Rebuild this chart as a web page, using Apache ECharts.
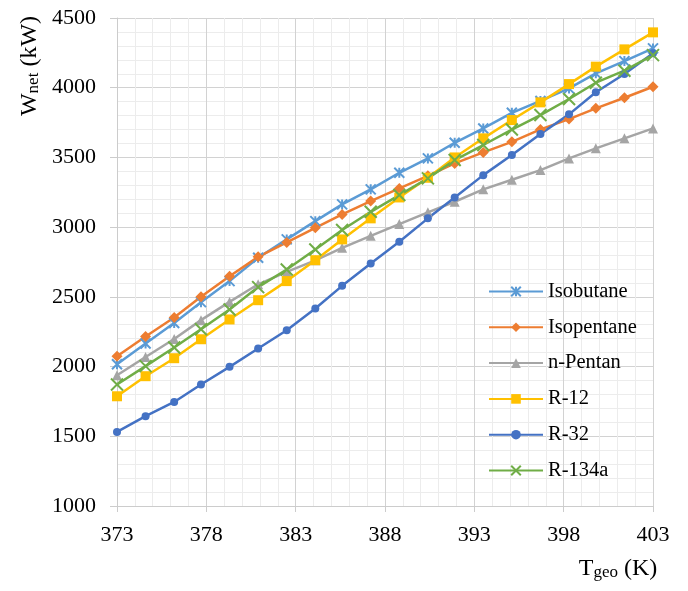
<!DOCTYPE html>
<html><head><meta charset="utf-8">
<script src="https://cdn.jsdelivr.net/npm/echarts@6/dist/echarts.min.js"></script>
<style>html,body{margin:0;padding:0;background:#fff}#c{width:688px;height:591px}</style>
</head><body><div id="c"></div>
<script>
const temperatures = [373.0, 374.6, 376.2, 377.7, 379.3, 380.9, 382.5, 384.1, 385.6, 387.2, 388.8, 390.4, 391.9, 393.5, 395.1, 396.7, 398.3, 399.8, 401.4, 403.0];
const isobutane  = [2017, 2165, 2313, 2462, 2613, 2780, 2912, 3043, 3163, 3271, 3390, 3493, 3605, 3708, 3820, 3905, 3995, 4103, 4191, 4282];
const isopentane = [2074, 2216, 2352, 2500, 2648, 2787, 2890, 2995, 3091, 3187, 3278, 3368, 3457, 3536, 3612, 3701, 3775, 3852, 3928, 4007];
const nPentan    = [1938, 2069, 2198, 2333, 2464, 2590, 2679, 2762, 2852, 2938, 3022, 3106, 3182, 3271, 3340, 3409, 3493, 3565, 3637, 3708];
const r12        = [1787, 1931, 2060, 2196, 2338, 2476, 2613, 2763, 2912, 3063, 3213, 3354, 3500, 3637, 3768, 3895, 4026, 4151, 4275, 4397];
const r32        = [1531, 1644, 1746, 1871, 1998, 2130, 2261, 2417, 2579, 2740, 2895, 3063, 3213, 3373, 3517, 3668, 3809, 3967, 4098, 4247];
const r134a      = [1871, 2003, 2137, 2268, 2409, 2570, 2696, 2840, 2979, 3110, 3230, 3350, 3481, 3589, 3700, 3804, 3919, 4036, 4122, 4234];
const seriesNames = ['Isobutane', 'Isopentane', 'n-Pentan', 'R-12', 'R-32', 'R-134a'];
const xTickLabels = [373, 378, 383, 388, 393, 398, 403];
const yTickLabels = [1000, 1500, 2000, 2500, 3000, 3500, 4000, 4500];

const F = 'Liberation Serif, Times New Roman, serif';
const colors = ['#5B9BD5', '#ED7D31', '#A5A5A5', '#FFC000', '#4472C4', '#70AD47'];
const symbols = [
  'path://M0,0 L10,10 M10,0 L0,10 M5,0 L5,10',
  'diamond', 'triangle', 'rect', 'circle',
  'path://M0,0 L10,10 M10,0 L0,10'
];
const sizes = [10, 11, 10, 10, 8, 12];
const strokes = [2, 0, 0, 0, 0, 2];
const values = [isobutane, isopentane, nPentan, r12, r32, r134a];

const series = seriesNames.map((name, k) => ({
  name, type: 'line',
  data: temperatures.map((t, i) => [t, values[k][i]]),
  symbol: symbols[k], symbolSize: sizes[k], showSymbol: true,
  lineStyle: { color: colors[k], width: 2.5 },
  itemStyle: { color: colors[k], borderColor: colors[k], borderWidth: strokes[k] },
  emphasis: { disabled: true },
  animation: false
}));

const richTitle = {
  a: { fontFamily: F, fontSize: 24, lineHeight: 24, verticalAlign: 'bottom', fill: '#000' },
  b: { fontFamily: F, fontSize: 17, lineHeight: 6, verticalAlign: 'bottom', fill: '#000' }
};

const chart = echarts.init(document.getElementById('c'), null, { renderer: 'canvas' });
chart.setOption({
  animation: false,
  color: colors,
  grid: { left: 117, right: 35, top: 18, bottom: 85, containLabel: false },
  xAxis: {
    type: 'value',
    min: xTickLabels[0], max: xTickLabels[xTickLabels.length - 1], interval: 5,
    axisLine: { show: true, lineStyle: { color: '#cccccc', width: 1 } },
    axisTick: { show: true, inside: false, length: 6, lineStyle: { color: '#cccccc' } },
    axisLabel: { fontFamily: F, fontSize: 22, color: '#000', margin: 18, formatter: v => String(v) },
    splitLine: { show: true, lineStyle: { color: '#d2d2d2', width: 1 } },
    minorTick: { show: false, splitNumber: 5 },
    minorSplitLine: { show: true, lineStyle: { color: '#ececec', width: 1 } }
  },
  yAxis: {
    type: 'value',
    min: yTickLabels[0], max: yTickLabels[yTickLabels.length - 1], interval: 500,
    axisLine: { show: true, lineStyle: { color: '#cccccc', width: 1 } },
    axisTick: { show: true, inside: false, length: 7, lineStyle: { color: '#cccccc' } },
    axisLabel: { fontFamily: F, fontSize: 22, color: '#000', margin: 21, formatter: v => String(v) },
    splitLine: { show: true, lineStyle: { color: '#d2d2d2', width: 1 } },
    minorTick: { show: false, splitNumber: 5 },
    minorSplitLine: { show: true, lineStyle: { color: '#ececec', width: 1 } }
  },
  legend: {
    orient: 'vertical', left: 488, top: 281, padding: 0,
    itemWidth: 54, itemHeight: 12, itemGap: 14.8,
    textStyle: { fontFamily: F, fontSize: 20.5, lineHeight: 20.5, color: '#000' },
    data: seriesNames
  },
  graphic: [
    {
      type: 'text', x: 30, y: 66, rotation: Math.PI / 2,
      style: {
        text: '{a|W}{b|net}{a| (kW)}',
        align: 'center', verticalAlign: 'middle',
        rich: richTitle
      }
    },
    {
      type: 'text', x: 618, y: 569,
      style: {
        text: '{a|T}{b|geo}{a| (K)}',
        align: 'center', verticalAlign: 'middle',
        rich: richTitle
      }
    }
  ],
  series
});
</script></body></html>
